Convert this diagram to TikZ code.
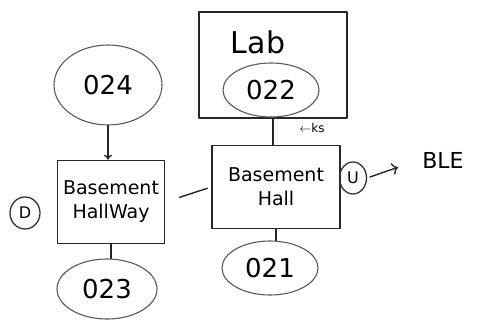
\documentclass[tikz,border=0pt]{standalone}
\usepackage{fontspec}
\setmainfont{DejaVu Sans}
\usetikzlibrary{shapes.geometric,arrows.meta}

\begin{document}
\begin{tikzpicture}[x=1pt,y=-1pt,line cap=round,line join=round,
    room/.style={draw=black!85,line width=1.6pt,rectangle,inner sep=0pt,align=center,
      font=\fontsize{19}{24}\selectfont},
    tag/.style={draw=black!65,line width=1.1pt,ellipse,inner sep=0pt,
      font=\fontsize{26}{26}\selectfont},
    side/.style={draw=black!80,line width=1.3pt,ellipse,inner sep=0pt,
      font=\fontsize{16}{16}\selectfont},
    link/.style={draw=black!85,line width=1.4pt}]
\useasboundingbox (0,0) rectangle (478,323);
% rooms
\node[room,minimum width=148pt,minimum height=106pt] (lab) at (273,65) {};
\node[font=\fontsize{30}{30}\selectfont] (labname) at (258,42) {Lab};
\node[room,minimum width=128pt,minimum height=83pt] (hall) at (276,187) {Basement\\Hall};
\node[room,minimum width=107pt,minimum height=83pt] (hallway) at (111,202) {Basement\\HallWay};
% room numbers
\node[tag,minimum width=96pt,minimum height=54pt] (n022) at (271,90) {022};
\node[tag,minimum width=108pt,minimum height=80pt] (n024) at (108,85) {024};
\node[tag,minimum width=100pt,minimum height=60pt] (n023) at (107,289) {023};
\node[tag,minimum width=96pt,minimum height=54pt] (n021) at (270,268) {021};
% side marks
\node[side,minimum width=30pt,minimum height=32pt] (d) at (25,213) {D};
\node[side,minimum width=27pt,minimum height=32pt] (u) at (353,178) {U};
\node[font=\fontsize{22}{22}\selectfont] (ble) at (443,160) {BLE};
\node[font=\fontsize{12}{12}\selectfont] (ks) at (312,128) {$\leftarrow$ks};
% connectors
\draw[link,-{To[length=5pt,width=8pt]}] (n024.south) -- (n024.south |- hallway.north);
\draw[link] (lab.south) -- (lab.south |- hall.north);
\draw[link] (hall.south) -- (hall.south |- n021.north);
\draw[link] (hallway.south) -- (hallway.south |- n023.north);
\draw[link,shorten <=15pt,shorten >=4pt] (hallway.east) -- (hall.west);
\draw[link,-{To[length=6pt,width=12pt]},shorten <=3pt,shorten >=22pt] (u.east) -- (ble.west);
\end{tikzpicture}
\end{document}
